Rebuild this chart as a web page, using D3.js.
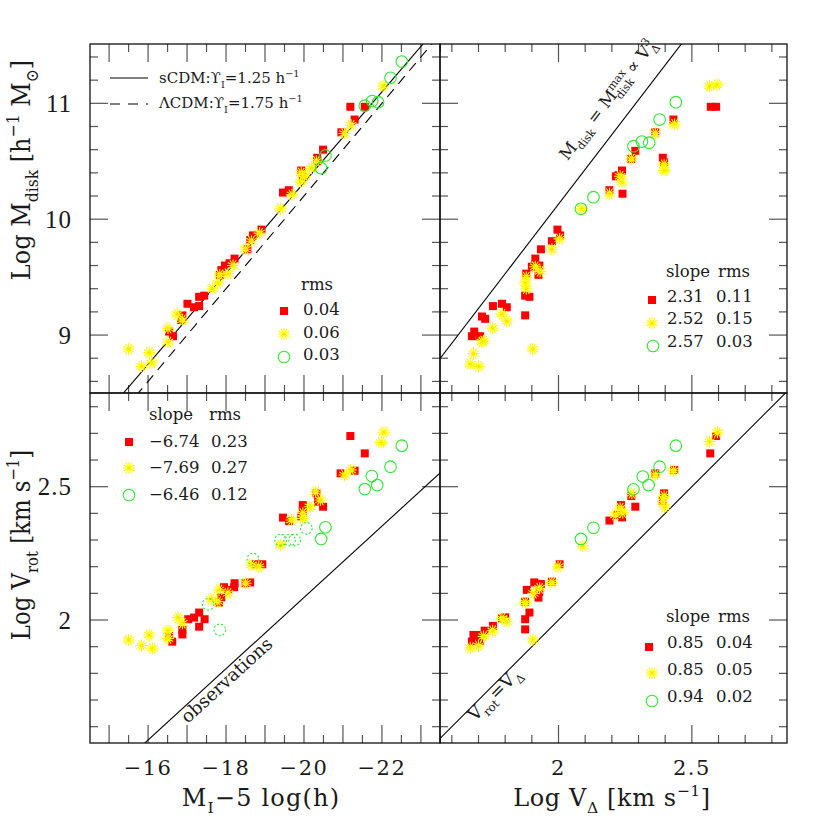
<!DOCTYPE html>
<html><head><meta charset="utf-8">
<script src="https://cdn.jsdelivr.net/npm/d3@7"></script>
<style>
body{margin:0;background:#fff}
svg{display:block}
text{font-family:"DejaVu Serif",serif;fill:#1a1a1a;white-space:pre}
</style>
</head><body>
<script>
// ---------------- data ----------------
// top-left: [M_I - 5 log h, log Mdisk]
const tlRed = [[-21.19,10.97],[-21.30,10.86],[-21.56,10.97],[-20.96,10.75],[-20.49,10.60],[-20.34,10.53],[-20.34,10.50],[-19.93,10.42],[-19.97,10.37],[-19.46,10.23],[-19.61,10.25],[-18.91,9.91],[-18.69,9.86],[-18.62,9.82],[-18.55,9.74],[-18.22,9.66],[-18.09,9.62],[-17.97,9.60],[-17.88,9.56],[-17.84,9.52],[-17.44,9.34],[-17.31,9.33],[-17.31,9.25],[-17.18,9.24],[-17.01,9.27],[-16.88,9.17],[-16.85,9.13],[-16.64,8.99],[-16.54,9.03]];
const tlYellow = [[-22.03,11.15],[-21.21,10.81],[-21.04,10.74],[-20.32,10.50],[-20.19,10.44],[-20.02,10.37],[-19.91,10.32],[-19.93,10.40],[-19.69,10.21],[-19.40,10.09],[-18.86,9.88],[-18.65,9.81],[-18.50,9.74],[-18.18,9.60],[-18.05,9.53],[-17.84,9.52],[-17.79,9.45],[-17.65,9.40],[-16.88,9.13],[-16.75,9.18],[-16.51,9.06],[-16.51,8.94],[-16.03,8.85],[-16.10,8.76],[-15.83,8.73],[-15.50,8.88]];
const tlGreen = [[-22.51,11.36],[-22.22,11.22],[-21.90,11.01],[-21.75,11.02],[-21.56,10.98],[-20.55,10.55],[-20.44,10.44]];
// top-right: [log V_Delta, log Mdisk]
const trRed = [[2.571,10.97],[2.591,10.97],[2.431,10.86],[2.363,10.75],[2.288,10.59],[2.273,10.52],[2.391,10.53],[2.396,10.49],[2.238,10.42],[2.225,10.38],[2.215,10.37],[2.191,10.25],[2.240,10.22],[1.996,9.91],[2.006,9.86],[1.975,9.81],[1.934,9.74],[1.913,9.66],[1.928,9.60],[1.900,9.59],[1.879,9.53],[1.925,9.52],[1.875,9.34],[1.891,9.33],[1.875,9.17],[1.754,9.25],[1.788,9.27],[1.806,9.24],[1.713,9.16],[1.725,9.14],[1.684,9.03],[1.675,8.99],[1.706,8.99]];
const trYellow = [[2.566,11.15],[2.594,11.16],[2.435,10.82],[2.363,10.74],[2.273,10.52],[2.396,10.47],[2.396,10.42],[2.231,10.37],[2.238,10.32],[2.191,10.22],[2.088,10.09],[2.004,9.83],[1.975,9.74],[1.913,9.59],[1.931,9.55],[1.879,9.50],[1.875,9.45],[1.879,9.40],[1.788,9.18],[1.806,9.12],[1.753,9.06],[1.719,8.95],[1.713,8.94],[1.681,8.84],[1.669,8.75],[1.700,8.73],[1.903,8.88]];
const trGreen = [[2.440,11.01],[2.379,10.86],[2.281,10.63],[2.313,10.67],[2.340,10.66],[2.131,10.19],[2.084,10.09]];
// bottom-left: [M_I - 5 log h, log Vrot]
const blRed = [[-21.19,2.690],[-21.56,2.625],[-20.94,2.550],[-21.30,2.560],[-20.32,2.475],[-20.36,2.444],[-20.49,2.425],[-19.97,2.431],[-19.97,2.410],[-19.93,2.388],[-19.46,2.384],[-19.62,2.371],[-18.93,2.209],[-18.74,2.209],[-18.62,2.141],[-18.50,2.138],[-18.22,2.138],[-18.21,2.123],[-18.05,2.113],[-17.95,2.123],[-17.88,2.085],[-17.82,2.066],[-17.45,2.003],[-17.31,2.028],[-17.31,1.975],[-17.18,2.009],[-17.03,2.003],[-16.88,1.963],[-16.88,1.946],[-16.62,1.919],[-16.54,1.940]];
const blYellow = [[-22.05,2.704],[-21.98,2.666],[-21.20,2.563],[-21.04,2.544],[-20.30,2.481],[-20.42,2.450],[-20.15,2.425],[-19.97,2.400],[-19.97,2.381],[-19.68,2.375],[-19.40,2.281],[-18.84,2.200],[-18.65,2.206],[-18.50,2.138],[-18.05,2.100],[-17.82,2.113],[-17.79,2.069],[-17.62,2.078],[-16.88,1.988],[-16.77,2.009],[-16.51,1.960],[-16.51,1.931],[-16.03,1.944],[-16.11,1.894],[-15.83,1.904],[-15.50,1.925]];
const blGreen = [[-22.51,2.654],[-22.22,2.575],[-21.74,2.540],[-21.88,2.506],[-21.56,2.491],[-20.55,2.348],[-20.44,2.304]];
const blGreenDotted = [[-20.06,2.344],[-19.76,2.300],[-19.63,2.300],[-19.40,2.300],[-18.69,2.229],[-17.54,2.059],[-17.84,1.963]];
// bottom-right: [log V_Delta, log Vrot]
const brRed = [[2.591,2.690],[2.569,2.625],[2.434,2.563],[2.363,2.550],[2.273,2.465],[2.288,2.425],[2.396,2.475],[2.391,2.446],[2.234,2.431],[2.238,2.385],[2.219,2.394],[2.191,2.373],[2.004,2.209],[1.975,2.144],[1.934,2.135],[1.909,2.141],[1.928,2.106],[1.925,2.084],[1.881,2.113],[1.875,2.069],[1.891,2.028],[1.875,2.003],[1.875,1.965],[1.800,2.010],[1.788,2.006],[1.754,1.978],[1.723,1.960],[1.706,1.944],[1.681,1.944],[1.706,1.923],[1.675,1.919]];
const brYellow = [[2.596,2.704],[2.566,2.669],[2.431,2.560],[2.363,2.544],[2.275,2.475],[2.396,2.463],[2.391,2.444],[2.398,2.423],[2.231,2.419],[2.241,2.403],[2.213,2.394],[2.091,2.278],[1.998,2.200],[1.975,2.141],[1.929,2.119],[1.906,2.100],[1.875,2.066],[1.806,1.994],[1.788,2.006],[1.753,1.960],[1.719,1.938],[1.700,1.903],[1.669,1.896],[1.904,1.925]];
const brGreen = [[2.440,2.654],[2.379,2.575],[2.316,2.538],[2.338,2.506],[2.281,2.490],[2.131,2.346],[2.084,2.304]];

// reference lines
const sCDMLine = [10.315, 0.392];   // log Mdisk at M=-20, dex per magnitude
const LCDMLine = [10.20, 0.40];
const maxDiskLine = [4.13, 3];      // log Mdisk = a + b log V
const obsLine = [1.55, 7.48];       // log Vrot at M=-16, magnitudes per dex
const eqLine = [0, 1];

// legends
const tlRms = ["0.04","0.06","0.03"];
const trSlope = ["2.31","2.52","2.57"], trRms = ["0.11","0.15","0.03"];
const blSlope = ["\u22126.74","\u22127.69","\u22126.46"], blRms = ["0.23","0.27","0.12"];
const brSlope = ["0.85","0.85","0.94"], brRms = ["0.04","0.05","0.02"];

// tick labels
const magTickLabels = [-16,-18,-20,-22];
const vTickLabels = [2, 2.5];
const mTickLabels = [9,10,11];

// ---------------- layout ----------------
const L=90, MX=440, R=787, T=44, MY=393, B=743;
const svg = d3.select("body").append("svg").attr("width",830).attr("height",830);

const xMag = d3.scaleLinear().domain([-14.51,-23.49]).range([L,MX]);
const xV = d3.scaleLinear().domain([1.5556,2.8568]).range([MX,R]);
const yM = d3.scaleLinear().domain([8.5,11.512]).range([MY,T]);
const yV = d3.scaleLinear().domain([1.5388,2.8514]).range([B,MY]);

const RED="#ff0000", YEL="#ffff00", GRN="#2ee82e";

function starPath(cx,cy,r){
  const p=d3.path();
  for(let i=0;i<6;i++){const a=Math.PI*i/6;
    p.moveTo(cx-r*Math.cos(a),cy-r*Math.sin(a));
    p.lineTo(cx+r*Math.cos(a),cy+r*Math.sin(a));}
  return p.toString();
}
function drawSquares(g,data,x,y){
  g.selectAll(null).data(data).enter().append("rect")
   .attr("x",d=>x(d[0])-4).attr("y",d=>y(d[1])-4).attr("width",8).attr("height",8)
   .attr("fill",RED);
}
function drawStars(g,data,x,y){
  g.selectAll(null).data(data).enter().append("path")
   .attr("d",d=>starPath(x(d[0]),y(d[1]),6))
   .attr("stroke",YEL).attr("stroke-width",1.1).attr("fill","none");
  g.selectAll(null).data(data).enter().append("circle")
   .attr("cx",d=>x(d[0])).attr("cy",d=>y(d[1])).attr("r",1.6).attr("fill","#ffe600");
}
function drawCircles(g,data,x,y,dotted){
  const c=g.selectAll(null).data(data).enter().append("circle")
   .attr("cx",d=>x(d[0])).attr("cy",d=>y(d[1])).attr("r",5.8)
   .attr("fill","none").attr("stroke",GRN).attr("stroke-width",1.1);
  if(dotted) c.attr("stroke-dasharray","2,2");
}

function rich(parent,parts,fs){
  const t=parent.append("text").attr("font-size",fs);
  let cur=0;
  for(const p of parts){
    const sh=p.sub?0.3*fs:p.sup?-0.42*fs:0;
    const ts=t.append("tspan").text(p.t).attr("dy",sh-cur);
    if(p.sub||p.sup) ts.attr("font-size",0.65*fs);
    if(p.dx) ts.attr("dx",p.dx);
    cur=sh;
  }
  return t;
}

const magTicks = d3.range(-15,-23.51,-0.5);
const vTicks = d3.range(16,29).map(v=>v/10);
const mTicks = d3.range(43,58).map(v=>v/5);
const isInt = v=>Math.abs(v-Math.round(v))<1e-6;
const isHalf = v=>Math.abs(v*2-Math.round(v*2))<1e-6;

const panels = [
  {id:"tl",x:xMag,y:yM,x0:L,x1:MX,y0:T,y1:MY,xt:magTicks,xMaj:isInt,yt:mTicks,yMaj:isInt,
   red:tlRed,yel:tlYellow,grn:tlGreen},
  {id:"tr",x:xV,y:yM,x0:MX,x1:R,y0:T,y1:MY,xt:vTicks,xMaj:isHalf,yt:mTicks,yMaj:isInt,
   red:trRed,yel:trYellow,grn:trGreen},
  {id:"bl",x:xMag,y:yV,x0:L,x1:MX,y0:MY,y1:B,xt:magTicks,xMaj:isInt,yt:vTicks,yMaj:isHalf,
   red:blRed,yel:blYellow,grn:blGreen,dot:blGreenDotted},
  {id:"br",x:xV,y:yV,x0:MX,x1:R,y0:MY,y1:B,xt:vTicks,xMaj:isHalf,yt:vTicks,yMaj:isHalf,
   red:brRed,yel:brYellow,grn:brGreen}
];

const defs=svg.append("defs");
panels.forEach(p=>{
  defs.append("clipPath").attr("id","clip-"+p.id).append("rect")
   .attr("x",p.x0).attr("y",p.y0).attr("width",p.x1-p.x0).attr("height",p.y1-p.y0);
});

// ticks
panels.forEach(p=>{
  const g=svg.append("g").attr("stroke","#555").attr("stroke-width",1.2);
  p.xt.forEach(v=>{
    const X=p.x(v), len=p.xMaj(v)?18:8;
    g.append("line").attr("x1",X).attr("x2",X).attr("y1",p.y1).attr("y2",p.y1-len);
    g.append("line").attr("x1",X).attr("x2",X).attr("y1",p.y0).attr("y2",p.y0+len);
  });
  p.yt.forEach(v=>{
    const Y=p.y(v), len=p.yMaj(v)?18:8;
    g.append("line").attr("y1",Y).attr("y2",Y).attr("x1",p.x0).attr("x2",p.x0+len);
    g.append("line").attr("y1",Y).attr("y2",Y).attr("x1",p.x1).attr("x2",p.x1-len);
  });
});

// reference lines
function segLine(p,pts,dash){
  const g=svg.append("g").attr("clip-path","url(#clip-"+p.id+")");
  const l=g.append("line").attr("x1",p.x(pts[0][0])).attr("y1",p.y(pts[0][1]))
   .attr("x2",p.x(pts[1][0])).attr("y2",p.y(pts[1][1]))
   .attr("stroke","#000").attr("stroke-width",1.1);
  if(dash) l.attr("stroke-dasharray",dash);
}
const magEnds=[-14.0,-24.0];
segLine(panels[0], magEnds.map(m=>[m, sCDMLine[0]+sCDMLine[1]*(-20-m)]));
segLine(panels[0], magEnds.map(m=>[m, LCDMLine[0]+LCDMLine[1]*(-20-m)]), "10,7");
segLine(panels[1], [1.5,2.9].map(v=>[v, maxDiskLine[0]+maxDiskLine[1]*v]));
segLine(panels[2], magEnds.map(m=>[m, obsLine[0]+(-16-m)/obsLine[1]]));
segLine(panels[3], [1.5,2.9].map(v=>[v, eqLine[0]+eqLine[1]*v]));

// data
panels.forEach(p=>{
  const g=svg.append("g").attr("clip-path","url(#clip-"+p.id+")");
  drawSquares(g,p.red,p.x,p.y);
  drawStars(g,p.yel,p.x,p.y);
  drawCircles(g,p.grn,p.x,p.y,false);
  if(p.dot) drawCircles(g,p.dot,p.x,p.y,true);
});

// frames
panels.forEach(p=>{
  svg.append("rect").attr("x",p.x0).attr("y",p.y0).attr("width",p.x1-p.x0).attr("height",p.y1-p.y0)
   .attr("fill","none").attr("stroke","#111").attr("stroke-width",1.3);
});

// tick labels
svg.selectAll(null).data(magTickLabels).enter().append("text")
 .attr("x",d=>xMag(d)).attr("y",775).attr("text-anchor","middle")
 .attr("font-size",21).attr("letter-spacing",1.5)
 .text(d=>"\u2212"+Math.abs(d));
svg.selectAll(null).data(vTickLabels).enter().append("text")
 .attr("x",d=>xV(d)).attr("y",775).attr("text-anchor","middle")
 .attr("font-size",21).attr("letter-spacing",1.5)
 .text(d=>d3.format("~g")(d));
svg.selectAll(null).data(mTickLabels).enter().append("text")
 .attr("x",72).attr("y",d=>yM(d)).attr("dy","0.35em").attr("text-anchor","end")
 .attr("font-size",25).style("font-family","'Liberation Serif',serif").attr("letter-spacing",1)
 .text(d=>d);
svg.selectAll(null).data(vTickLabels).enter().append("text")
 .attr("x",72).attr("y",d=>yV(d)).attr("dy","0.35em").attr("text-anchor","end")
 .attr("font-size",25).style("font-family","'Liberation Serif',serif").attr("letter-spacing",1)
 .text(d=>d3.format("~g")(d));

// axis titles
rich(svg.append("g").attr("transform","translate(261,806)"),
  [{t:"M"},{t:"I",sub:1},{t:"\u22125 log(h)"}],24).attr("text-anchor","middle").attr("letter-spacing",1.2);
rich(svg.append("g").attr("transform","translate(612,806)"),
  [{t:"Log V"},{t:"\u0394",sub:1},{t:" [km s"},{t:"\u22121",sup:1},{t:"]"}],24).attr("text-anchor","middle").attr("letter-spacing",0.6);
rich(svg.append("g").attr("transform","translate(30,170) rotate(-90) scale(1.0,1.12)"),
  [{t:"Log M"},{t:"disk",sub:1},{t:" [h"},{t:"\u22121",sup:1},{t:" M"},{t:"\u2299",sub:1},{t:"]"}],24).attr("text-anchor","middle");
rich(svg.append("g").attr("transform","translate(30,545) rotate(-90) scale(0.95,1.12)"),
  [{t:"Log V"},{t:"rot",sub:1},{t:" [km s"},{t:"\u22121",sup:1},{t:"]"}],24).attr("text-anchor","middle");

// model legend (top-left)
svg.append("line").attr("x1",110).attr("x2",148).attr("y1",78).attr("y2",78).attr("stroke","#000").attr("stroke-width",1.1);
svg.append("line").attr("x1",110).attr("x2",148).attr("y1",104).attr("y2",104).attr("stroke","#000").attr("stroke-width",1.1).attr("stroke-dasharray","10,8");
rich(svg.append("g").attr("transform","translate(159,83)"),
  [{t:"sCDM:\u03D2"},{t:"I",sub:1},{t:"=1.25 h"},{t:"\u22121",sup:1}],15);
rich(svg.append("g").attr("transform","translate(159,108)"),
  [{t:"\u039BCDM:\u03D2"},{t:"I",sub:1},{t:"=1.75 h"},{t:"\u22121",sup:1}],15);

// legends
function legendMarkers(pos){
  const g=svg.append("g");
  g.append("rect").attr("x",pos[0][0]-4).attr("y",pos[0][1]-4).attr("width",8).attr("height",8).attr("fill",RED);
  g.append("path").attr("d",starPath(pos[1][0],pos[1][1],6)).attr("stroke",YEL).attr("stroke-width",1.1);
  g.append("circle").attr("cx",pos[1][0]).attr("cy",pos[1][1]).attr("r",1.6).attr("fill","#ffe600");
  g.append("circle").attr("cx",pos[2][0]).attr("cy",pos[2][1]).attr("r",5.8).attr("fill","none").attr("stroke",GRN).attr("stroke-width",1.1);
}
function legendText(x,y,s){ svg.append("text").attr("x",x).attr("y",y).attr("font-size",16.5).text(s); }

// top-left
legendText(301,290,"rms");
tlRms.forEach((s,i)=>legendText(303,[315,338,360][i],s));
legendMarkers([[284,311],[284,334],[284,357]]);
// top-right
legendText(666,277,"slope");legendText(718,277,"rms");
trSlope.forEach((s,i)=>{legendText(667,[302,324,347][i],s);legendText(716,[302,324,347][i],trRms[i]);});
legendMarkers([[652,300],[652,323],[653,346]]);
// bottom-left
legendText(149,420,"slope");legendText(209,420,"rms");
blSlope.forEach((s,i)=>{legendText(149,[447,473,500][i],s);legendText(211,[447,473,500][i],blRms[i]);});
legendMarkers([[129,442],[129,468],[129,495]]);
// bottom-right
legendText(666,622,"slope");legendText(718,622,"rms");
brSlope.forEach((s,i)=>{legendText(667,[648,675,702][i],s);legendText(716,[648,675,702][i],brRms[i]);});
legendMarkers([[649,647],[652,673],[652,701]]);

// rotated annotations along lines
function annotate(p,a,b,parts,fs,off){
  const X1=p.x(a[0]),Y1=p.y(a[1]),X2=p.x(b[0]),Y2=p.y(b[1]);
  const ang=Math.atan2(Y2-Y1,X2-X1)*180/Math.PI;
  const g=svg.append("g").attr("transform",`translate(${X1},${Y1}) rotate(${ang})`);
  rich(g,parts,fs).attr("y",off);
}
{
  const v0=2.09, v1=2.3;
  annotate(panels[1],[v0,maxDiskLine[0]+maxDiskLine[1]*v0],[v1,maxDiskLine[0]+maxDiskLine[1]*v1],
    [{t:"M"},{t:"disk",sub:1},{t:" = M"},{t:"max",sup:1},{t:"disk",sub:1,dx:-25},{t:" \u221D V"},{t:"3",sup:1},{t:"\u0394",sub:1,dx:-7}],17,-19);
  const m0=-16.76, m1=-19;
  annotate(panels[2],[m0,obsLine[0]+(-16-m0)/obsLine[1]],[m1,obsLine[0]+(-16-m1)/obsLine[1]],
    [{t:"observations"}],18,15);
  const e0=1.652, e1=2.0;
  annotate(panels[3],[e0,e0],[e1,e1],[{t:"V"},{t:"rot",sub:1},{t:"=V"},{t:"\u0394",sub:1}],18,13);
}
</script>
</body></html>
